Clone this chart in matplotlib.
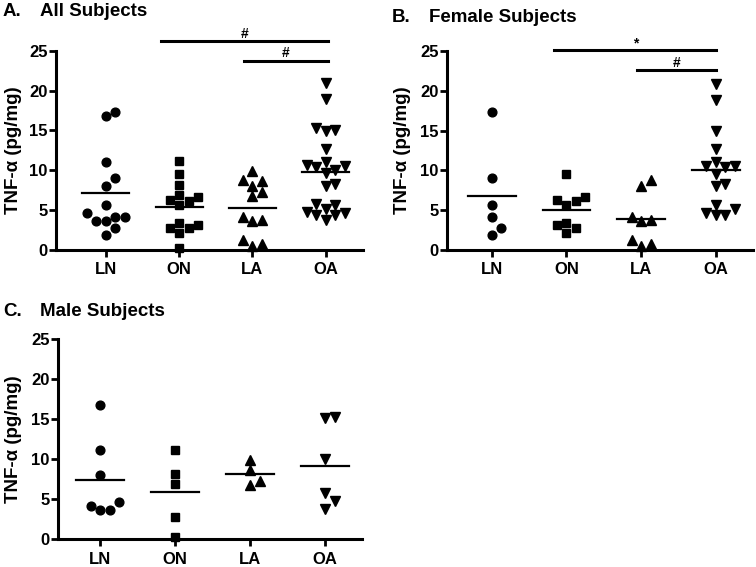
"""TNF-alpha column scatter plots: all, female and male subjects."""

import matplotlib

matplotlib.use("Agg")
import matplotlib.pyplot as plt
import numpy as np

plt.rcParams["font.family"] = ["Liberation Sans", "DejaVu Sans"]
plt.rcParams["font.weight"] = "bold"

groups = ["LN", "ON", "LA", "OA"]
markers = ["o", "s", "^", "v"]

# TNF-alpha (pg/mg)
female_ln = [17.3, 9.0, 5.7, 4.2, 2.8, 1.9]
female_on = [9.5, 6.6, 6.3, 6.2, 5.7, 3.4, 3.1, 2.8, 2.1]
female_la = [8.8, 8.0, 4.1, 3.8, 3.6, 1.3, 0.8, 0.5]
female_oa = [20.9, 18.9, 14.9, 12.7, 11.1, 10.5, 10.6, 10.4,
             9.6, 8.3, 8.0, 5.7, 5.1, 4.6, 4.4, 4.4]

male_ln = [16.8, 11.1, 8.0, 4.6, 4.2, 3.7, 3.7]
male_on = [11.2, 8.2, 6.9, 2.8, 0.3]
male_la = [9.9, 8.7, 7.3, 6.8]
male_oa = [15.3, 15.1, 10.0, 5.8, 4.8, 3.8]

female = [female_ln, female_on, female_la, female_oa]
male = [male_ln, male_on, male_la, male_oa]
everyone = [f + m for f, m in zip(female, male)]


def swarm_offsets(values, px_per_y, px_per_x, diam=9.5):
    """Simple beeswarm: nudge points sideways so markers do not overlap."""
    values = np.asarray(values, dtype=float)
    offsets = np.zeros(len(values))
    placed = []
    steps = [0]
    for k in range(1, 30):
        steps += [k, -k]
    for i in np.argsort(values):
        y = values[i] * px_per_y
        for k in steps:
            x = k * diam / 2
            if all((x - px) ** 2 + (y - py) ** 2 >= diam ** 2 for px, py in placed):
                break
        placed.append((x, y))
        offsets[i] = x / px_per_x
    return offsets


def draw_panel(ax, data, xlim, letter, title, title_xy, ylabel_x):
    ax.set_xlim(*xlim)
    ax.set_ylim(0, 25)
    px_x = ax.get_position().width * 756 / (xlim[1] - xlim[0])
    px_y = ax.get_position().height * 567 / 25
    for i, vals in enumerate(data):
        xs = i + swarm_offsets(vals, px_y, px_x)
        size = 6.3 if markers[i] in "os" else 7.3
        ax.plot(xs, vals, linestyle="none", marker=markers[i], color="black",
                markersize=size, clip_on=False, zorder=3)
        ax.plot([i - 0.32, i + 0.32], [np.mean(vals)] * 2, color="black",
                linewidth=1.6, zorder=2)
    ax.set_xticks(range(len(groups)))
    ax.set_xticklabels(groups)
    ax.set_yticks([0, 5, 10, 15, 20, 25])
    ax.spines[["top", "right"]].set_visible(False)
    for side in ("left", "bottom"):
        ax.spines[side].set_linewidth(2.2)
    ax.tick_params(axis="both", width=2, labelsize=12)
    ax.tick_params(axis="y", length=5, pad=1)
    ax.tick_params(axis="x", length=5, pad=4)
    ax.set_ylabel("TNF-\u03b1 (pg/mg)", fontsize=13.5, fontweight="bold",
                  va="center")
    ax.yaxis.set_label_coords(ylabel_x, 0.5)
    fig = ax.figure
    fig.text(title_xy[0], title_xy[1], letter, fontsize=13.5, fontweight="bold", va="center")
    fig.text(title_xy[0] + 37 / 756, title_xy[1], title, fontsize=13.5,
             fontweight="bold", va="center")


def sig_bar(ax, x0, x1, y, label, dy=0.9):
    ax.plot([x0, x1], [y, y], color="black", linewidth=2.2, clip_on=False)
    ax.text((x0 + x1) / 2, y + dy, label, ha="center", va="center",
            fontsize=10, fontweight="bold", clip_on=False)


fig = plt.figure(figsize=(7.56, 5.67), dpi=100)
ax_a = fig.add_axes([56 / 756, 1 - 250 / 567, 307 / 756, 199.3 / 567])
ax_b = fig.add_axes([447 / 756, 1 - 250 / 567, 306 / 756, 199 / 567])
ax_c = fig.add_axes([58 / 756, 1 - 539.3 / 567, 304 / 756, 200 / 567])

draw_panel(ax_a, everyone, (-0.68, 3.51), "A.", "All Subjects", (3 / 756, 1 - 11 / 567), -0.14)
draw_panel(ax_b, female, (-0.6, 3.5), "B.", "Female Subjects", (392 / 756, 1 - 18 / 567), -0.147)
draw_panel(ax_c, male, (-0.56, 3.49), "C.", "Male Subjects", (3 / 756, 1 - 311 / 567), -0.148)

sig_bar(ax_a, 0.75, 3.03, 26.2, "#")
sig_bar(ax_a, 1.88, 3.03, 23.75, "#")
sig_bar(ax_b, 0.84, 3.01, 25.1, "*")
sig_bar(ax_b, 1.95, 3.01, 22.6, "#")

fig.savefig("out.png", dpi=100)
